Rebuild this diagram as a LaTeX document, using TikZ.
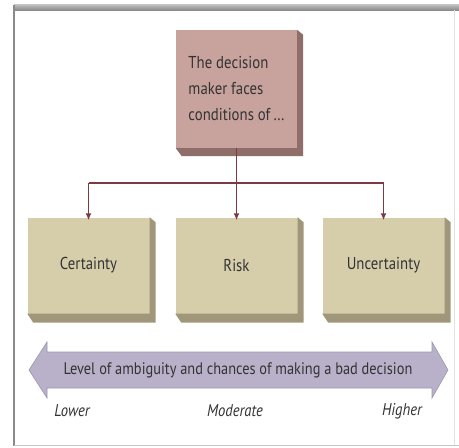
\documentclass[tikz,border=0pt]{standalone}
\usepackage{fontspec}
\setmainfont[FakeStretch=0.86]{PT Sans}
\usetikzlibrary{arrows.meta}
\definecolor{topface}{HTML}{C8A29C}
\definecolor{topside}{HTML}{8F6E69}
\definecolor{lowface}{HTML}{D6CDAB}
\definecolor{lowside}{HTML}{A0977A}
\definecolor{conn}{HTML}{7B3B45}
\definecolor{arrfill}{HTML}{B8B1C9}
\definecolor{arredge}{HTML}{9C95B0}
\definecolor{txt}{HTML}{333333}
\definecolor{frame}{HTML}{8A8A8A}
\begin{document}
\begin{tikzpicture}[x=1pt,y=-1pt,
  facebox/.style={minimum width=122pt,minimum height=96pt,inner sep=0pt,text=txt,font=\fontsize{17.2}{26}\selectfont},
  link/.style={conn,line width=1.6pt},
  tip/.style={-{Latex[length=7pt,width=6pt]}},
  lvltext/.style={text=txt,font=\itshape\fontsize{17}{20}\selectfont}]
\useasboundingbox (0,0) rectangle (459,448);
\fill[white] (0,0) rectangle (459,448);
% frame
\fill[top color=frame!50,bottom color=frame] (14,4) rectangle (459,10);
\draw[frame,line width=1.5pt] (14,5) -- (14,446);
\draw[frame!50,line width=1pt] (14,445.5) -- (459,445.5);
\draw[frame!25,line width=0.8pt] (454,10) -- (454,445);
% top box
\node[facebox,fill=topface,minimum height=118pt,minimum width=121pt,align=left] (top) at (236.5,89)
  {The decision\\maker faces\\conditions of\,\ldots};
\fill[topside] (top.north east) -- ++(6,5) |- ([shift={(6,8)}]top.south west) -- (top.south west) -| cycle;
% lower boxes
\node[facebox,fill=lowface] (cert) at (88.5,265.5) {Certainty};
\node[facebox,fill=lowface] (risk) at (236.5,265.5) {Risk};
\node[facebox,fill=lowface] (unc) at (383.5,265.5) {Uncertainty};
\foreach \b in {cert,risk,unc}{
  \fill[lowside] (\b.north east) -- ++(6,5) |- ([shift={(6,9)}]\b.south west) -- (\b.south west) -| cycle;
}
% connectors
\coordinate (j) at (top.south |- 0,183);
\coordinate (jl) at (cert.north |- 0,183);
\coordinate (jr) at (unc.north |- 0,183);
\draw[link] (top.south) -- (j);
\draw[link] (jl) -- (jr);
\draw[link,tip] (jl) -- ([yshift=-3pt]cert.north);
\draw[link,tip] (j) -- ([yshift=-3pt]risk.north);
\draw[link,tip] (jr) -- ([yshift=-3pt]unc.north);
% double arrow
\filldraw[fill=arrfill,draw=arredge,line width=0.6pt]
  (29,370) -- (47,342) -- (47,352) -- (432,352) -- (432,342) -- (448,370)
  -- (432,398) -- (432,388) -- (47,388) -- (47,398) -- cycle;
\node[text=txt,font=\fontsize{16.7}{20}\selectfont] (lvl) at (238,370) {Level of ambiguity and chances of making a bad decision};
\node[lvltext] (low) at (72,411) {Lower};
\node[lvltext] (mod) at (235,411) {Moderate};
\node[lvltext] (high) at (402,411) {Higher};
\end{tikzpicture}
\end{document}
